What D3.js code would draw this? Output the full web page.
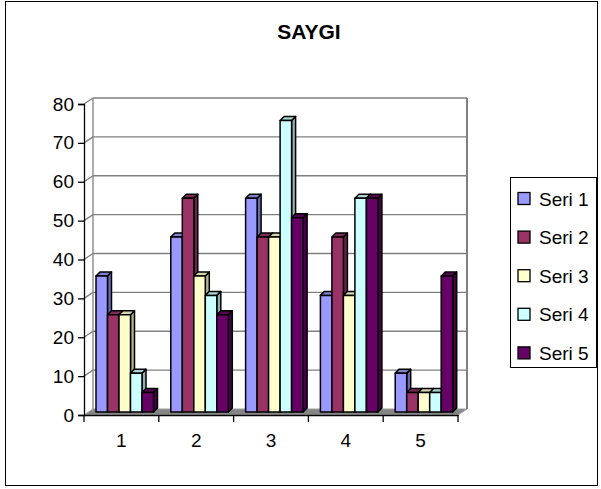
<!DOCTYPE html>
<html>
<head>
<meta charset="utf-8">
<script src="https://cdn.jsdelivr.net/npm/d3@7"></script>
<style>
  body { margin: 0; background: #fff; }
  svg { display: block; font-family: "Liberation Sans", Arial, sans-serif; }
</style>
</head>
<body>
<svg id="chart" width="601" height="489"></svg>
<script>
// chart data
const categories = ["1", "2", "3", "4", "5"];
const seriesNames = ["Seri 1", "Seri 2", "Seri 3", "Seri 4", "Seri 5"];
const seri1 = [35, 45, 55, 30, 10];
const seri2 = [25, 55, 45, 45, 5];
const seri3 = [25, 35, 45, 30, 5];
const seri4 = [10, 30, 75, 55, 5];
const seri5 = [5, 25, 50, 55, 35];
const yTicks = [0, 10, 20, 30, 40, 50, 60, 70, 80];
const colors = ["#9999FF", "#993366", "#FFFFCC", "#CCFFFF", "#660066"];

const allSeries = [seri1, seri2, seri3, seri4, seri5];

const svg = d3.select("#chart");

// outer frame
svg.append("rect")
    .attr("x", 5.5).attr("y", 1.5)
    .attr("width", 592).attr("height", 484)
    .attr("fill", "#fff").attr("stroke", "#000").attr("stroke-width", 1);

// title
svg.append("text")
    .attr("x", 309).attr("y", 38.5)
    .attr("text-anchor", "middle")
    .style("font-size", "21px").style("font-weight", "bold")
    .text("SAYGI");

// front plane scales
const x = d3.scaleBand().domain(categories).range([84, 458]);
const y = d3.scaleLinear().domain([0, 80]).range([415, 104]);

// wall depth offset
const wdx = 9, wdy = -6;
// bar placement
const barOff = 12, barW = 11.5, bdx = 4, bdy = -4, barDy = -3;

const walls = svg.append("g");

// floor
walls.append("path")
    .attr("d", `M${x.range()[0]},${y(0)} L${x.range()[1]},${y(0)} L${x.range()[1] + wdx},${y(0) + wdy} L${x.range()[0] + wdx},${y(0) + wdy} Z`)
    .attr("fill", "#858585").attr("stroke", "#a0a0a0").attr("stroke-width", 1);

// back wall gridlines
walls.selectAll(".grid")
    .data(yTicks.filter(d => d > 0))
    .enter().append("line")
    .attr("x1", x.range()[0] + wdx).attr("x2", x.range()[1] + wdx)
    .attr("y1", d => y(d) + wdy).attr("y2", d => y(d) + wdy)
    .attr("stroke", "#808080").attr("stroke-width", 1.3);

// side wall diagonals
walls.selectAll(".diag")
    .data(yTicks.filter(d => d > 0))
    .enter().append("line")
    .attr("x1", x.range()[0]).attr("x2", x.range()[0] + wdx)
    .attr("y1", d => y(d)).attr("y2", d => y(d) + wdy)
    .attr("stroke", "#808080").attr("stroke-width", 1.3);

// wall edges
walls.append("line")
    .attr("x1", x.range()[0] + wdx).attr("x2", x.range()[0] + wdx)
    .attr("y1", y(80) + wdy).attr("y2", y(0) + wdy)
    .attr("stroke", "#808080").attr("stroke-width", 1.3);
walls.append("line")
    .attr("x1", x.range()[1] + wdx).attr("x2", x.range()[1] + wdx)
    .attr("y1", y(80) + wdy).attr("y2", y(0) + wdy)
    .attr("stroke", "#808080").attr("stroke-width", 2);

// bars
const bars = svg.append("g");
categories.forEach((cat, ci) => {
    allSeries.forEach((vals, si) => {
        const v = vals[ci];
        const x0 = x(cat) + barOff + si * barW;
        const x1 = x0 + barW;
        const yb = y(0) + barDy;
        const yt = y(v) + barDy;
        const c = d3.color(colors[si]);
        const g = bars.append("g")
            .attr("stroke", "#000").attr("stroke-width", 1.5)
            .attr("stroke-linejoin", "round");
        // side face
        g.append("path")
            .attr("d", `M${x1},${yb} L${x1 + bdx},${yb + bdy} L${x1 + bdx},${yt + bdy} L${x1},${yt} Z`)
            .attr("fill", c.darker(1));
        // top face
        g.append("path")
            .attr("d", `M${x0},${yt} L${x0 + bdx},${yt + bdy} L${x1 + bdx},${yt + bdy} L${x1},${yt} Z`)
            .attr("fill", c.darker(0.5));
        // front face
        g.append("rect")
            .attr("x", x0).attr("y", yt)
            .attr("width", barW).attr("height", yb - yt)
            .attr("fill", colors[si]);
    });
});

// axes
const yAxis = d3.axisLeft(y).tickValues(yTicks).tickSize(6).tickPadding(4);
const gy = svg.append("g").attr("transform", `translate(${x.range()[0]},0)`).call(yAxis);
gy.select(".domain").attr("stroke", "#000").attr("stroke-width", 1.3);
gy.selectAll(".tick line").attr("stroke", "#000").attr("stroke-width", 1.3);
gy.selectAll(".tick text").style("font-size", "19px").attr("fill", "#000");

const xAxis = d3.axisBottom(x).tickSize(0).tickPadding(19);
const gx = svg.append("g").attr("transform", `translate(0,${y(0)})`).call(xAxis);
gx.select(".domain").attr("stroke", "#000").attr("stroke-width", 1.3);
gx.selectAll(".tick text").style("font-size", "19px").attr("fill", "#000");
gx.selectAll(".sep")
    .data(x.range().concat(categories.slice(1).map(d => x(d))))
    .enter().append("line")
    .attr("x1", d => d).attr("x2", d => d)
    .attr("y1", 0).attr("y2", 7)
    .attr("stroke", "#000").attr("stroke-width", 1.3);

// legend
const legend = svg.append("g");
legend.append("rect")
    .attr("x", 510.5).attr("y", 177.5)
    .attr("width", 86).attr("height", 190)
    .attr("fill", "#fff").attr("stroke", "#000").attr("stroke-width", 1);
const items = legend.selectAll(".item")
    .data(seriesNames)
    .enter().append("g")
    .attr("transform", (d, i) => `translate(518,${198.5 + i * 38.6})`);
items.append("rect")
    .attr("x", 0).attr("y", -6)
    .attr("width", 12).attr("height", 12)
    .attr("fill", (d, i) => colors[i])
    .attr("stroke", "#000").attr("stroke-width", 1.3);
items.append("text")
    .attr("x", 21).attr("y", 7)
    .style("font-size", "19px")
    .text(d => d);
</script>
</body>
</html>
